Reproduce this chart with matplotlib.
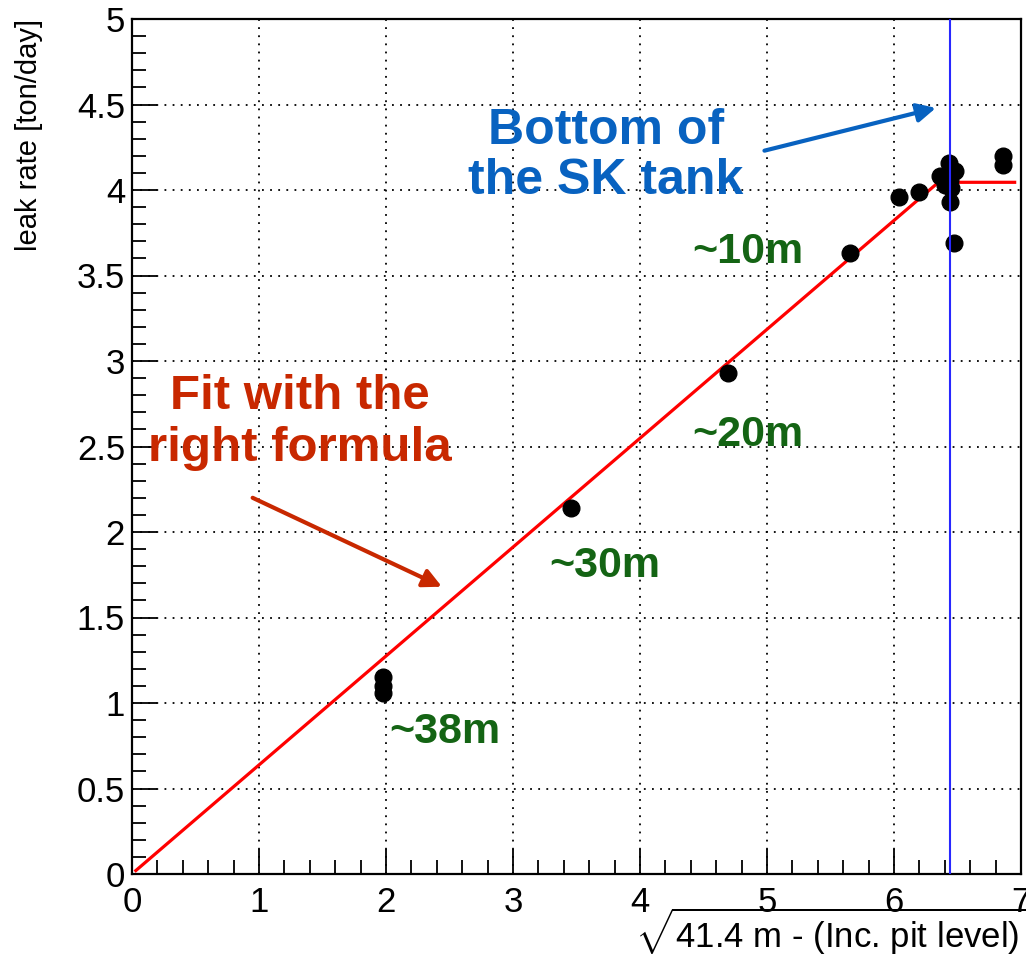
import numpy as np
import matplotlib
matplotlib.use('Agg')
import matplotlib.pyplot as plt

plt.rcParams['font.family'] = ['Liberation Sans', 'DejaVu Sans']
plt.rcParams['mathtext.fontset'] = 'custom'
plt.rcParams['mathtext.rm'] = 'Liberation Sans'
plt.rcParams['mathtext.it'] = 'Liberation Sans:italic'
plt.rcParams['mathtext.bf'] = 'Liberation Sans:bold'

# measured points: sqrt(41.4 m - pit level) vs leak rate
sqrt_depth = [1.98, 1.98, 1.98, 3.46, 4.69, 5.65, 6.04, 6.20, 6.36, 6.43,
              6.48, 6.44, 6.40, 6.45, 6.44, 6.47, 6.86, 6.86]
leak_rate = [1.06, 1.10, 1.15, 2.14, 2.93, 3.63, 3.96, 3.99, 4.08, 4.16,
             4.11, 4.06, 4.03, 4.01, 3.93, 3.69, 4.20, 4.145]

# fit: linear up to the tank bottom, then flat
fit_x = [0.03, 6.35, 6.95]
fit_y = [0.02, 4.045, 4.045]
tank_bottom = 6.44

depth_labels = ['~10m', '~20m', '~30m', '~38m']
depth_label_x = [4.85, 4.85, 3.72, 2.46]
depth_label_y = [3.64, 2.57, 1.80, 0.83]

fig = plt.figure(figsize=(10.26, 9.58), dpi=100)
ax = fig.add_axes([132/1026, 84/958, 889/1026, 855/958])

ax.set_xlim(0, 7)
ax.set_ylim(0, 5)
ax.set_xticks(np.arange(0, 8, 1))
ax.set_yticks(np.arange(0, 5.01, 0.5))
ax.set_yticklabels(['0', '0.5', '1', '1.5', '2', '2.5', '3', '3.5', '4', '4.5', '5'])
ax.set_xticks(np.arange(0, 7.01, 0.2), minor=True)
ax.set_yticks(np.arange(0, 5.01, 0.1), minor=True)
ax.tick_params(which='major', direction='in', length=18, width=1.3,
               labelsize=25, top=False, right=False)
ax.tick_params(axis='x', which='major', pad=9)
ax.tick_params(axis='y', which='major', pad=5)
ax.tick_params(which='minor', direction='in', length=10, width=1.3,
               top=False, right=False)
ax.grid(True, which='major', color='black', linestyle=(0, (1, 3.5)), linewidth=1.3)
for s in ax.spines.values():
    s.set_linewidth(1.6)

ax.plot(fit_x, fit_y, color='#ff0000', lw=2.3, zorder=3)
ax.plot(sqrt_depth, leak_rate, 'o', color='black', ms=12, zorder=4)
ax.axvline(tank_bottom, color='#2828ff', lw=1.5, zorder=5)

ax.text(3.73, 4.2, 'Bottom of\nthe SK tank', color='#0862c0', fontsize=36,
        fontweight='bold', ha='center', va='center', linespacing=1.12)
ax.annotate('', xy=(6.33, 4.48), xytext=(4.98, 4.23),
            arrowprops=dict(arrowstyle='-|>', color='#0862c0', lw=3,
                            mutation_scale=28, shrinkA=0, shrinkB=0))

ax.text(1.32, 2.64, 'Fit with the\nright formula', color='#c82800', fontsize=35.5,
        fontweight='bold', ha='center', va='center', linespacing=1.18)
ax.annotate('', xy=(2.44, 1.68), xytext=(0.95, 2.20),
            arrowprops=dict(arrowstyle='-|>', color='#c82800', lw=3,
                            mutation_scale=28, shrinkA=0, shrinkB=0))

for lab, tx, ty in zip(depth_labels, depth_label_x, depth_label_y):
    ax.text(tx, ty, lab, color='#146414', fontsize=31, fontweight='bold',
            ha='center', va='center')

ax.set_ylabel('leak rate [ton/day]', fontsize=21, loc='top')
ax.yaxis.set_label_coords(-0.10, 1.0)
ax.set_xlabel(r'$\sqrt{\text{41.4 m - (Inc. pit level)}}$',
              fontsize=25, loc='right')
ax.xaxis.set_label_coords(1.005, -0.037)

fig.savefig('out.png', dpi=100)
